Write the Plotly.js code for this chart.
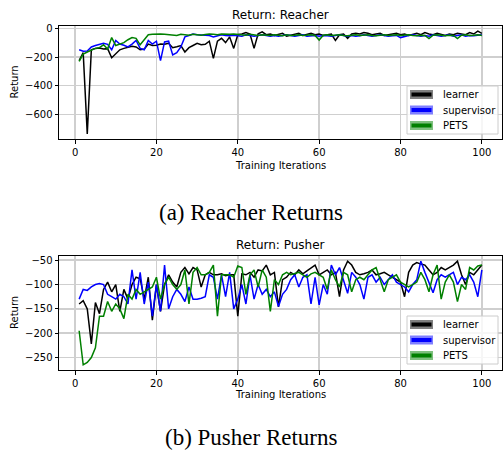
<!DOCTYPE html>
<html>
<head>
<meta charset="utf-8">
<script src="https://cdn.plot.ly/plotly-3.0.1.min.js"></script>
<style>html,body{margin:0;padding:0;background:#fff;}#chart{width:503px;height:453px;}</style>
</head>
<body>
<div id="chart"></div>
<script>
// ---------- data ----------
const iterations = [1,2,3,4,5,6,7,8,9,10,11,12,13,14,15,16,17,18,19,20,21,22,23,24,25,26,27,28,29,30,31,32,33,34,35,36,37,38,39,40,41,42,43,44,45,46,47,48,49,50,51,52,53,54,55,56,57,58,59,60,61,62,63,64,65,66,67,68,69,70,71,72,73,74,75,76,77,78,79,80,81,82,83,84,85,86,87,88,89,90,91,92,93,94,95,96,97,98,99,100];

const seriesNames = ["learner", "supervisor", "PETS"];

const reacherLearner = [-225,-170,-735,-150,-140,-138,-145,-142,-205,-180,-150,-140,-135,-125,-130,-150,-145,-110,-120,-118,-110,-112,-105,-135,-128,-120,-165,-135,-120,-105,-115,-112,-90,-210,-90,-70,-100,-60,-140,-45,-40,-30,-40,-140,-38,-25,-45,-40,-50,-45,-35,-55,-50,-40,-35,-50,-45,-35,-45,-40,-50,-45,-40,-85,-45,-40,-70,-40,-35,-40,-30,-35,-45,-40,-35,-50,-45,-40,-35,-45,-40,-50,-40,-35,-45,-30,-40,-45,-35,-40,-50,-40,-45,-35,-40,-45,-30,-40,-20,-35];
const reacherSupervisor = [-150,-160,-158,-130,-120,-112,-105,-112,-150,-85,-110,-118,-130,-110,-85,-140,-150,-85,-110,-90,-225,-95,-90,-185,-170,-130,-60,-50,-40,-45,-45,-48,-50,-60,-55,-45,-50,-52,-48,-50,-55,-45,-50,-55,-50,-45,-50,-55,-50,-55,-50,-45,-50,-55,-50,-45,-55,-50,-50,-55,-50,-52,-55,-50,-45,-50,-55,-50,-55,-52,-45,-50,-55,-50,-45,-50,-55,-52,-50,-65,-55,-50,-45,-50,-55,-50,-55,-45,-50,-55,-50,-45,-55,-50,-45,-55,-50,-52,-50,-45];
const reacherPETS = [-230,-180,-165,-150,-140,-135,-115,-145,-65,-120,-110,-100,-80,-65,-70,-115,-80,-45,-42,-40,-40,-42,-45,-44,-50,-42,-45,-48,-42,-45,-48,-44,-40,-42,-45,-40,-43,-42,-40,-44,-45,-48,-42,-46,-50,-45,-48,-50,-45,-48,-52,-45,-50,-48,-45,-50,-48,-45,-50,-82,-48,-45,-50,-48,-45,-50,-52,-48,-45,-50,-48,-45,-50,-52,-48,-45,-50,-48,-45,-50,-48,-45,-50,-52,-48,-50,-72,-48,-45,-50,-52,-48,-50,-72,-48,-45,-50,-48,-45,-50];

const pusherLearner = [-140,-133,-150,-222,-137,-160,-110,-95,-115,-100,-155,-110,-130,-100,-85,-88,-130,-85,-173,-100,-155,-100,-80,-95,-105,-75,-65,-78,-65,-70,-105,-80,-75,-80,-80,-78,-82,-80,-80,-165,-78,-80,-75,-85,-70,-72,-60,-80,-75,-146,-90,-85,-75,-80,-70,-78,-72,-65,-60,-80,-75,-70,-80,-75,-125,-70,-52,-60,-75,-80,-78,-75,-70,-80,-78,-75,-80,-85,-90,-95,-125,-75,-60,-55,-58,-60,-70,-80,-75,-65,-70,-65,-60,-52,-80,-100,-75,-80,-70,-60];
const pusherSupervisor = [-130,-110,-112,-105,-100,-98,-100,-120,-125,-130,-120,-125,-140,-70,-130,-75,-140,-95,-165,-100,-155,-60,-150,-125,-110,-120,-135,-105,-130,-130,-128,-125,-80,-85,-130,-80,-125,-75,-150,-130,-100,-140,-80,-130,-100,-120,-110,-125,-115,-145,-120,-110,-90,-80,-105,-85,-80,-140,-85,-142,-100,-120,-60,-80,-65,-90,-118,-75,-85,-100,-130,-85,-80,-95,-85,-100,-90,-80,-95,-100,-105,-115,-100,-90,-52,-75,-95,-117,-90,-80,-85,-80,-75,-100,-85,-90,-80,-95,-125,-70];
const pusherPETS = [-195,-265,-260,-250,-230,-165,-165,-135,-155,-140,-150,-170,-120,-130,-110,-120,-115,-110,-105,-85,-130,-100,-85,-100,-110,-100,-70,-140,-75,-65,-80,-80,-75,-60,-165,-80,-80,-80,-85,-62,-65,-120,-80,-70,-105,-70,-85,-155,-90,-100,-80,-75,-80,-78,-75,-80,-85,-78,-75,-80,-85,-110,-70,-90,-105,-75,-80,-115,-90,-85,-90,-80,-70,-65,-90,-115,-90,-85,-80,-95,-100,-105,-100,-95,-75,-90,-115,-80,-60,-130,-95,-80,-95,-135,-100,-110,-65,-70,-62,-60];

const xTicks = [0, 20, 40, 60, 80, 100];
const reacherYTicks = [0, -200, -400, -600];
const pusherYTicks = [-50, -100, -150, -200, -250];

const titles = ["Return: Reacher", "Return: Pusher"];
const captions = ["(a) Reacher Returns", "(b) Pusher Returns"];
const xLabel = "Training Iterations";
const yLabel = "Return";

// ---------- style ----------
const colors = ["#000000", "#0000ff", "#008000"];
const patchFill = ["rgba(0,0,0,0.5)", "rgba(0,0,255,0.5)", "rgba(0,128,0,0.5)"];
const W = 503, H = 453;
const M = {l: 59, r: 1, t: 26, b: 83};
const PW = W - M.l - M.r, PH = H - M.t - M.b;
const px = v => (v - M.l) / PW;
const py = v => (H - M.b - v) / PH;
const fmt = v => (v < 0 ? "\u2212" + Math.abs(v) : String(v));

function padRange(arrs) {
  const all = [].concat(...arrs);
  const lo = Math.min(...all), hi = Math.max(...all);
  const m = (hi - lo) * 0.05;
  return [lo - m, hi + m];
}
const xr = padRange([iterations]);

const traces = [];
[[reacherLearner, reacherSupervisor, reacherPETS], [pusherLearner, pusherSupervisor, pusherPETS]].forEach((grp, gi) => {
  grp.forEach((ys, si) => {
    traces.push({
      x: iterations, y: ys, type: "scatter", mode: "lines",
      name: seriesNames[si], showlegend: false,
      line: {color: colors[si], width: 1.5},
      xaxis: gi === 0 ? "x" : "x2", yaxis: gi === 0 ? "y" : "y2",
      hoverinfo: "skip"
    });
  });
});

const font = {family: "DejaVu Sans", size: 10, color: "#000"};
function axisCommon() {
  return {
    showline: true, mirror: true, linecolor: "#000", linewidth: 1,
    ticks: "outside", ticklen: 3.5, tickwidth: 1, tickcolor: "#000",
    showgrid: true, gridcolor: "#cfcfcf", gridwidth: 1.5,
    zeroline: false, tickfont: font, fixedrange: true
  };
}
const topDomain = [py(139), 1];
const botDomain = [0, py(256)];

const layout = {
  width: W, height: H, margin: M,
  paper_bgcolor: "#fff", plot_bgcolor: "#fff",
  font: font, showlegend: false,
  xaxis: Object.assign(axisCommon(), {domain: [0, 1], range: xr, anchor: "y",
    tickmode: "array", tickvals: xTicks, ticktext: xTicks.map(fmt)}),
  yaxis: Object.assign(axisCommon(), {domain: topDomain, anchor: "x",
    range: padRange([reacherLearner, reacherSupervisor, reacherPETS]),
    tickmode: "array", tickvals: reacherYTicks, ticktext: reacherYTicks.map(fmt)}),
  xaxis2: Object.assign(axisCommon(), {domain: [0, 1], range: xr, anchor: "y2",
    tickmode: "array", tickvals: xTicks, ticktext: xTicks.map(fmt)}),
  yaxis2: Object.assign(axisCommon(), {domain: botDomain, anchor: "x2",
    range: padRange([pusherLearner, pusherSupervisor, pusherPETS]),
    tickmode: "array", tickvals: pusherYTicks, ticktext: pusherYTicks.map(fmt)}),
  annotations: [], shapes: []
};

function ann(text, x, y, opts) {
  layout.annotations.push(Object.assign({
    text: text, xref: "paper", yref: "paper", x: px(x), y: py(y),
    xanchor: "center", yanchor: "middle", showarrow: false, font: font
  }, opts || {}));
}

const panels = [{top: 26, bot: 139, title: 15, xlab: 165, cap: 212, leg: 86},
                {top: 256, bot: 370, title: 245, xlab: 395, cap: 438, leg: 316}];
panels.forEach((p, i) => {
  ann(titles[i], (M.l + W - M.r) / 2, p.title, {font: {family: "DejaVu Sans", size: 12, color: "#000"}});
  ann(xLabel, (M.l + W - M.r) / 2, p.xlab);
  ann(yLabel, 14, (p.top + p.bot) / 2, {textangle: -90});
  ann(captions[i], 251, p.cap, {font: {family: "Liberation Serif", size: 23, color: "#000"}});
  layout.shapes.push({type: "rect", xref: "paper", yref: "paper",
    x0: px(407), x1: px(498), y0: py(p.leg), y1: py(p.leg + 48),
    fillcolor: "rgba(255,255,255,0.8)", line: {color: "#cccccc", width: 1}, layer: "above"});
  seriesNames.forEach((nm, si) => {
    const c = p.leg + 8.5 + si * 15.5;
    layout.shapes.push({type: "rect", xref: "paper", yref: "paper",
      x0: px(410), x1: px(433), y0: py(c - 4.5), y1: py(c + 4.5),
      fillcolor: patchFill[si], line: {width: 0}, layer: "above"});
    layout.shapes.push({type: "line", xref: "paper", yref: "paper",
      x0: px(411.5), x1: px(431.5), y0: py(c), y1: py(c),
      line: {color: colors[si], width: 4}, layer: "above"});
    ann(nm, 440.5, c, {xanchor: "left"});
  });
});

Plotly.newPlot("chart", traces, layout, {staticPlot: true, displayModeBar: false});
</script>
</body>
</html>
